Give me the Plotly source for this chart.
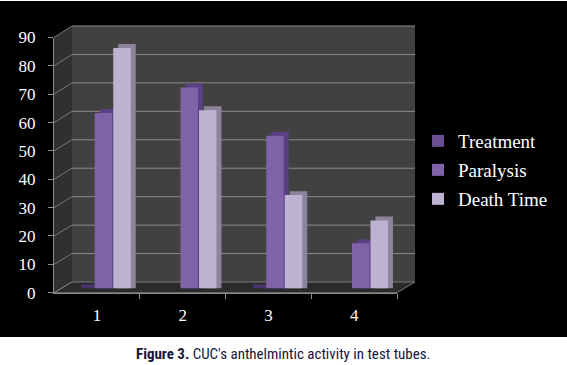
import plotly.graph_objects as go

# ---------------- data ----------------
categories = [1, 2, 3, 4]
category_labels = ["1", "2", "3", "4"]
treatment = [0, None, 0, None]
paralysis = [62, 71, 54, 16]
death_time = [85, 63, 33, 24]
y_ticks = [0, 10, 20, 30, 40, 50, 60, 70, 80, 90]
caption_bold = "Figure 3."
caption_rest = " CUC's anthelmintic activity in test tubes."

# ---------------- geometry helpers (pixel -> paper) ----------------
W, H = 567, 365


def px(x):
    return x / W


def py(y):
    return 1 - y / H


# front frame (axis) and back wall in pixels
FX0, FX1, FY0, FY90 = 54, 397, 292.7, 37.5
BX0, BX1, BY0, BY90 = 72, 415, 282, 26
# bar frame (mid depth)
MX0, MX1, MY0, MY90 = 63, 406, 288.5, 33.8


def yf(v):
    return FY0 - v * (FY0 - FY90) / 90


def yb(v):
    return BY0 - v * (BY0 - BY90) / 90


shapes = []
# black chart background
shapes.append(dict(type="rect", xref="paper", yref="paper", x0=0, x1=1, y0=py(337), y1=py(1),
                   fillcolor="#000000", line_width=0, layer="below"))
# left side wall
shapes.append(dict(type="path", xref="paper", yref="paper", layer="below",
                   path=f"M{px(FX0)},{py(FY0)} L{px(FX0)},{py(FY90)} L{px(BX0)},{py(BY90)} L{px(BX0)},{py(BY0)} Z",
                   fillcolor="#303030", line_width=0))
# back wall
shapes.append(dict(type="rect", xref="paper", yref="paper", layer="below",
                   x0=px(BX0), x1=px(BX1), y0=py(BY0), y1=py(BY90),
                   fillcolor="#414141", line_width=0))
# floor
shapes.append(dict(type="path", xref="paper", yref="paper", layer="below",
                   path=f"M{px(FX0)},{py(FY0)} L{px(FX1)},{py(FY0)} L{px(BX1)},{py(BY0)} L{px(BX0)},{py(BY0)} Z",
                   fillcolor="#2a2a2a", line=dict(color="#7a7a7a", width=1)))
# gridlines on back wall and side wall
for v in y_ticks:
    if v > 0:
        shapes.append(dict(type="line", xref="paper", yref="paper", layer="below",
                           x0=px(BX0), x1=px(BX1), y0=py(yb(v)), y1=py(yb(v)),
                           line=dict(color="#8c8c8c", width=1)))
    shapes.append(dict(type="line", xref="paper", yref="paper", layer="below",
                       x0=px(FX0), x1=px(BX0), y0=py(yf(v)), y1=py(yb(v)),
                       line=dict(color="#7a7a7a", width=1)))

fig = go.Figure()

# ---------------- bars (pseudo 3D) ----------------
bw = 0.204
dx = 0.058
dy = 1.4
series = [
    ("Treatment", treatment, -0.243, "#6a4f92", "#4a3470"),
    ("Paralysis", paralysis, -0.028, "#7f62a8", "#5a3f85"),
    ("Death Time", death_time, 0.188, "#beb2d2", "#8d849c"),
]
# depth faces first
for name, vals, off, col, dark in series:
    fig.add_trace(go.Bar(
        x=categories, y=[v + dy if v is not None else None for v in vals], base=0,
        offset=off - bw / 2 + dx, width=bw, marker=dict(color=dark, line_width=0),
        showlegend=False, hoverinfo="skip", xaxis="x", yaxis="y"))
legend_ids = ["legend", "legend2", "legend3"]
for (name, vals, off, col, dark), lid in zip(series, legend_ids):
    fig.add_trace(go.Bar(
        x=categories, y=vals, base=0, name=name,
        offset=off - bw / 2, width=bw, marker=dict(color=col, line_width=0),
        xaxis="x", yaxis="y", legend=lid))

# invisible trace to host the front axes
fig.add_trace(go.Scatter(x=categories, y=paralysis, xaxis="x2", yaxis="y2",
                         mode="markers", marker=dict(opacity=0), showlegend=False,
                         hoverinfo="skip"))

font_serif = "Liberation Serif, Times New Roman, serif"
legend_common = dict(font=dict(family=font_serif, size=19, color="#ffffff"),
                     bgcolor="rgba(0,0,0,0)", borderwidth=0, xanchor="left", yanchor="middle",
                     itemclick=False, itemdoubleclick=False)
legend_rows = [141, 170, 199]

fig.update_layout(
    width=W, height=H,
    margin=dict(l=0, r=0, t=0, b=0, pad=0, autoexpand=False),
    paper_bgcolor="#ffffff",
    plot_bgcolor="rgba(0,0,0,0)",
    barmode="overlay",
    shapes=shapes,
    xaxis=dict(domain=[px(MX0), px(MX1)], range=[0.5, 4.5], visible=False, fixedrange=True),
    yaxis=dict(domain=[py(MY0), py(MY90)], range=[0, 90], visible=False, fixedrange=True),
    xaxis2=dict(domain=[px(FX0), px(FX1)], range=[0.5, 4.5], anchor="y2",
                tickmode="array", tickvals=categories, ticktext=category_labels,
                ticks="outside", ticklen=7, tickcolor="rgba(0,0,0,0)",
                minor=dict(tickmode="array", tickvals=[1.5, 2.5, 3.5, 4.5], ticks="outside",
                           ticklen=5, tickcolor="#8c8c8c", showgrid=False),
                showline=True, linecolor="#8c8c8c", linewidth=1, showgrid=False, zeroline=False,
                tickfont=dict(family=font_serif, size=17, color="#ffffff"), fixedrange=True),
    yaxis2=dict(domain=[py(FY0), py(FY90)], range=[0, 90], anchor="x2",
                tickmode="array", tickvals=y_ticks, ticks="outside", ticklen=5,
                ticklabelstandoff=9,
                tickcolor="#8c8c8c", showline=True, linecolor="#8c8c8c", linewidth=1,
                showgrid=False, zeroline=False,
                tickfont=dict(family=font_serif, size=17, color="#ffffff"), fixedrange=True),
    legend=dict(x=px(418), y=py(legend_rows[0]), **legend_common),
    legend2=dict(x=px(418), y=py(legend_rows[1]), **legend_common),
    legend3=dict(x=px(418), y=py(legend_rows[2]), **legend_common),
    annotations=[dict(
        xref="paper", yref="paper", x=0.5, y=py(354), xanchor="center", yanchor="middle",
        showarrow=False,
        text=f"<b>{caption_bold}</b>{caption_rest}",
        font=dict(family="Liberation Sans Narrow, Roboto Condensed, Roboto, sans-serif",
                  size=15, color="#15153a"))],
)

fig.write_html("out.html", config={"displayModeBar": False},
               post_script="document.body.style.margin='0';document.body.style.overflow='hidden';")
